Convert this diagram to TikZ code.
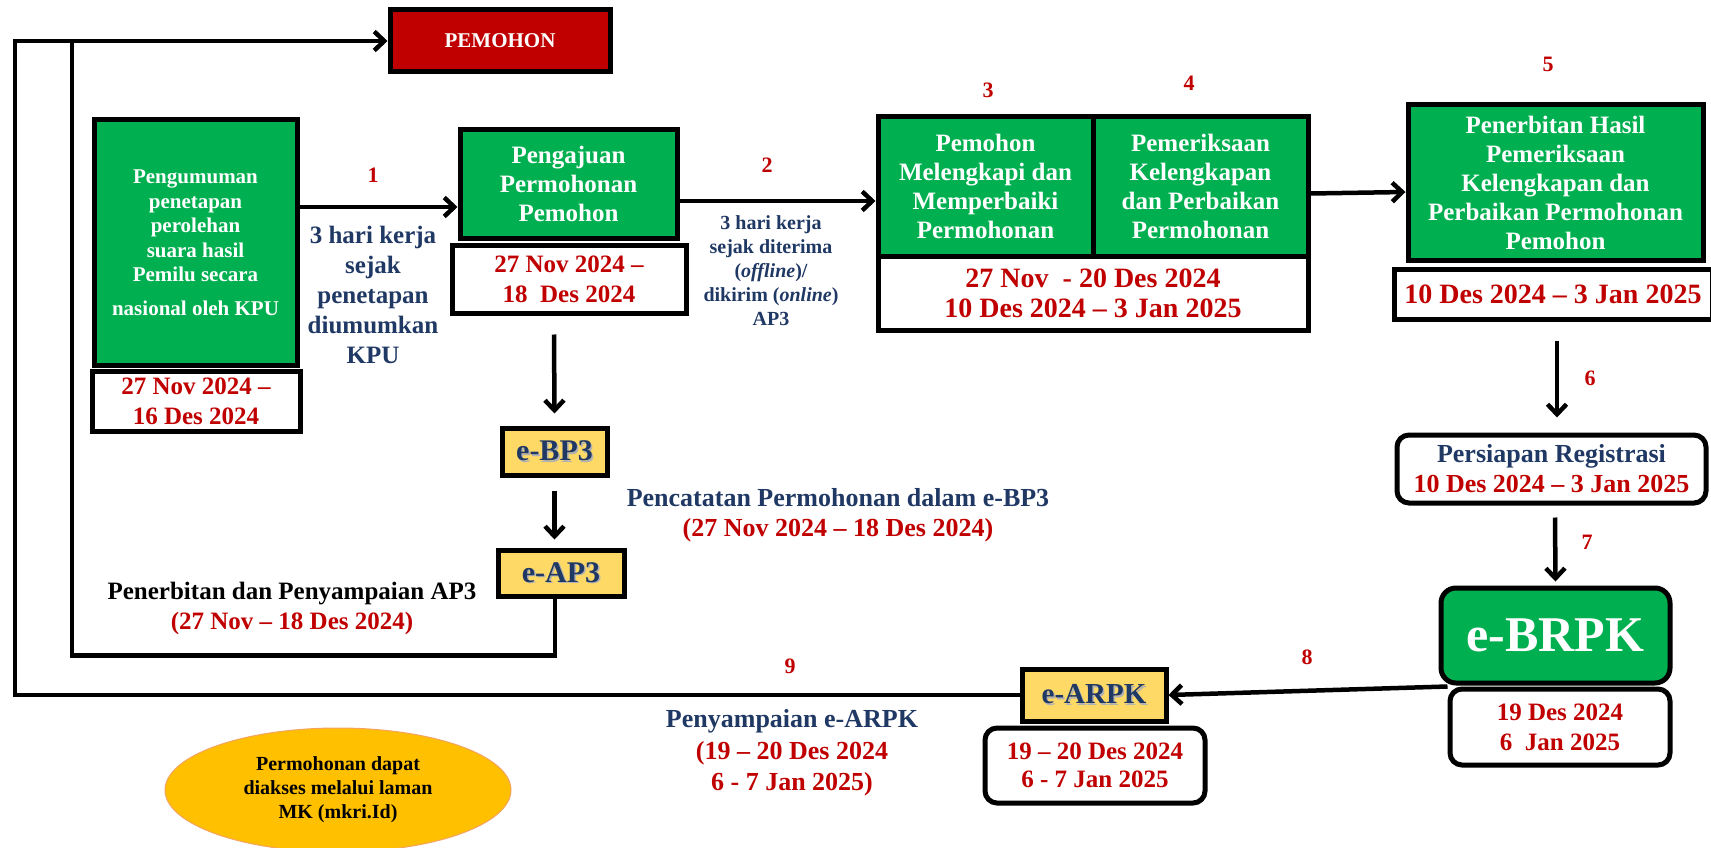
\documentclass[tikz,border=0pt]{standalone}
\usepackage{fontspec}
\setmainfont{Liberation Serif}
\usetikzlibrary{arrows.meta,shapes.geometric}
\definecolor{hijau}{HTML}{00B050}
\definecolor{merah}{HTML}{C00000}
\definecolor{biru}{HTML}{1F3864}
\definecolor{kuning}{HTML}{FFD966}
\definecolor{oranye}{HTML}{FFC000}
\definecolor{oranyegaris}{HTML}{F4A460}
\newcommand{\ukuran}[2]{\bfseries\fontsize{#1}{#2}\selectfont}
\newcommand{\bayang}[1]{\makebox[0pt][l]{\hspace{1.5pt}\raisebox{-1.5pt}{\textcolor{black!30}{#1}}}#1}
\begin{document}
\begin{tikzpicture}[
    x=1pt,y=-1pt,
    every node/.style={align=center,inner sep=0pt},
    hijaubox/.style={draw=black,line width=5pt,fill=hijau,text=white,font=\ukuran{25}{29}},
    tglbox/.style={draw=black,line width=5pt,fill=white,text=merah,font=\ukuran{25}{30}},
    tglround/.style={tglbox,rounded corners=12pt},
    kuningbox/.style={draw=black,line width=5pt,fill=kuning,text=biru,font=\ukuran{30}{32}},
    num/.style={text=merah,font=\ukuran{22}{24}},
    ket/.style={font=\ukuran{25}{30}},
    conn/.style={line width=4.5pt},
    arr/.style={conn,-{Straight Barb[length=10pt,width=19pt]}}]
    \useasboundingbox (0,0) rectangle (1711,848);
    \coordinate (luar) at (15,41);
    \coordinate (dalam) at (72,41);
    \node[draw=black,line width=5pt,fill=merah,text=white,font=\ukuran{21}{25},
        minimum width=220pt,minimum height=62pt] (pemohon) at (500,41) {PEMOHON};
    \node[hijaubox,minimum width=203pt,minimum height=245pt,font=\ukuran{21}{24.5}]
        (umum) at (195.5,242.5)
        {Pengumuman\\penetapan\\perolehan\\suara hasil\\Pemilu secara\\[9pt]nasional oleh KPU};
    \node[tglbox,minimum width=208pt,minimum height=60pt] (umumtgl) at (196,401)
        {27 Nov 2024 –\\16 Des 2024};
    \node[hijaubox,minimum width=217pt,minimum height=108pt] (aju) at (568.5,184)
        {Pengajuan\\Permohonan\\Pemohon};
    \node[tglbox,minimum width=234pt,minimum height=68pt] (ajutgl) at (569,279)
        {27 Nov 2024 –\\18~~Des 2024};
    \node[hijaubox,minimum width=215pt,minimum height=139pt] (lengkap) at (985.5,186.5)
        {Pemohon\\Melengkapi dan\\Memperbaiki\\Permohonan};
    \node[hijaubox,minimum width=215pt,minimum height=139pt] (periksa) at (1200.5,186.5)
        {Pemeriksaan\\Kelengkapan\\dan Perbaikan\\Permohonan};
    \node[tglbox,minimum width=430pt,minimum height=74pt,font=\ukuran{28}{30}]
        (lengkaptgl) at (1093,293) {27 Nov~~- 20 Des 2024\\10 Des 2024 – 3 Jan 2025};
    \node[hijaubox,minimum width=295pt,minimum height=155pt] (terbit) at (1555.5,182.5)
        {Penerbitan Hasil\\Pemeriksaan\\Kelengkapan dan\\Perbaikan Permohonan\\Pemohon};
    \node[tglbox,minimum width=318pt,minimum height=50pt,font=\ukuran{28}{30}]
        (terbittgl) at (1553,294) {10 Des 2024 – 3 Jan 2025};
    \node[tglround,minimum width=309pt,minimum height=68pt,font=\ukuran{26}{30}]
        (regis) at (1551.5,469)
        {\textcolor{biru}{Persiapan Registrasi}\\10 Des 2024 – 3 Jan 2025};
    \node[hijaubox,rounded corners=15pt,minimum width=229pt,minimum height=95pt,
        font=\ukuran{50}{55}] (ebrpk) at (1555.5,635.5) {e-BRPK};
    \node[tglround,minimum width=220pt,minimum height=76pt] (ebrpktgl) at (1560,727)
        {19 Des 2024\\6~~Jan 2025};
    \node[kuningbox,minimum width=144pt,minimum height=52pt,font=\ukuran{29}{31}]
        (earpk) at (1094,695) {\bayang{e-ARPK}};
    \node[tglround,minimum width=220pt,minimum height=75pt,font=\ukuran{25}{28}]
        (earpktgl) at (1095,765.5) {19 – 20 Des 2024\\6 - 7 Jan 2025};
    \node[kuningbox,minimum width=105pt,minimum height=47pt] (ebp3) at (554.5,451.5)
        {\bayang{e-BP3}};
    \node[kuningbox,minimum width=126pt,minimum height=46pt] (eap3) at (561,573)
        {\bayang{e-AP3}};
    \node[ellipse,draw=oranyegaris,line width=1pt,fill=oranye,font=\ukuran{20}{24},
        minimum width=346pt,minimum height=124pt] (laman) at (338,790)
        {Permohonan dapat\\diakses melalui laman\\MK (mkri.Id)};
    \node[ket,text=biru] (ket1) at (373,295)
        {3 hari kerja\\sejak\\penetapan\\diumumkan\\KPU};
    \node[ket,text=biru,font=\ukuran{20}{24}] (ket2) at (771,270.5)
        {3 hari kerja\\sejak diterima\\(\textit{offline})/\\dikirim (\textit{online})\\AP3};
    \node[ket,font=\ukuran{26}{30}] (catat) at (838,515)
        {\textcolor{biru}{Pencatatan Permohonan dalam e-BP3}\\
        \textcolor{merah}{(27 Nov 2024 – 18 Des 2024)}};
    \node[ket] (terbitap3) at (292,608)
        {Penerbitan dan Penyampaian AP3\\\textcolor{merah}{(27 Nov – 18 Des 2024)}};
    \node[ket,font=\ukuran{26}{31.5}] (sampai) at (792,753)
        {\textcolor{biru}{Penyampaian e-ARPK}\\\textcolor{merah}{(19 – 20 Des 2024}\\
        \textcolor{merah}{6 - 7 Jan 2025)}};
    \node[num] (n1) at (373,175) {1};
    \node[num] (n2) at (767,165) {2};
    \node[num] (n3) at (988,90) {3};
    \node[num] (n4) at (1189,83) {4};
    \node[num] (n5) at (1548,64) {5};
    \node[num] (n6) at (1590,378) {6};
    \node[num] (n7) at (1587,542) {7};
    \node[num] (n8) at (1307,657) {8};
    \node[num] (n9) at (790,666) {9};
    \draw[arr] ([yshift=35.5pt]umum.east) -- ([yshift=-23pt]aju.west);
    \draw[arr] ([yshift=-17pt]aju.east) -- ([yshift=-14.5pt]lengkap.west);
    \draw[arr] ([yshift=-7pt]periksa.east) -- ([yshift=-9.5pt]terbit.west);
    \draw[arr] ([xshift=-15pt,yshift=-19pt]ajutgl.south) -- ([yshift=12pt]ebp3.north);
    \draw[arr] ([yshift=-13pt]ebp3.south) -- ([xshift=-6.5pt,yshift=8pt]eap3.north);
    \draw[conn] ([xshift=-6pt]eap3.south) -- ++(0,57) -| (dalam);
    \draw[arr] (earpk.west) -| (luar) -- (pemohon.west);
    \draw[arr] ([xshift=4pt,yshift=-19pt]terbittgl.south) -- ([xshift=5.5pt,yshift=15pt]regis.north);
    \draw[arr] ([xshift=3.5pt,yshift=-12pt]regis.south) -- ([yshift=4pt]ebrpk.north);
    \draw[arr] (ebrpktgl.north west) -- (earpk.east);
\end{tikzpicture}
\end{document}
